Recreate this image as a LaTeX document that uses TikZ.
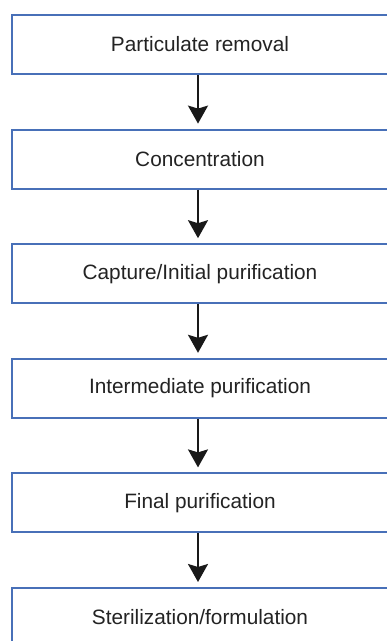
\documentclass[tikz,border=0pt]{standalone}
\usepackage{fontspec}
\setmainfont{Liberation Sans}
\usetikzlibrary{arrows.meta,positioning}
\definecolor{boxblue}{RGB}{72,112,184}
\definecolor{txtgray}{RGB}{35,35,35}
\tikzset{
  stage/.style={draw=boxblue, line width=2pt, fill=white, minimum width=376pt,
    minimum height=59pt, inner sep=0pt, text=txtgray,
    font=\fontsize{20.8}{25}\selectfont},
  flow/.style={-{Stealth[length=18pt,width=20pt,inset=3pt]}, line width=2pt,
    draw=black!90, shorten >=5pt}
}
\begin{document}
\begin{tikzpicture}[x=1pt,y=-1pt, node distance=53.6pt]
        \useasboundingbox (0,0) rectangle (387,641);
        \clip (0,0) rectangle (387,641);
        \node[stage] (particulate) at (200,44.5) {Particulate removal};
        \node[stage, below=of particulate] (concentration) {Concentration};
        \node[stage, below=of concentration] (capture) {Capture/Initial purification};
        \node[stage, below=of capture] (intermediate) {Intermediate purification};
        \node[stage, below=of intermediate] (final) {Final purification};
        \node[stage, below=of final] (sterilization) {Sterilization/formulation};
        \draw[flow] (particulate.south -| 198,0) -- (concentration.north -| 198,0);
        \draw[flow] (concentration.south -| 198,0) -- (capture.north -| 198,0);
        \draw[flow] (capture.south -| 198,0) -- (intermediate.north -| 198,0);
        \draw[flow] (intermediate.south -| 198,0) -- (final.north -| 198,0);
        \draw[flow] (final.south -| 198,0) -- (sterilization.north -| 198,0);
\end{tikzpicture}
\end{document}
